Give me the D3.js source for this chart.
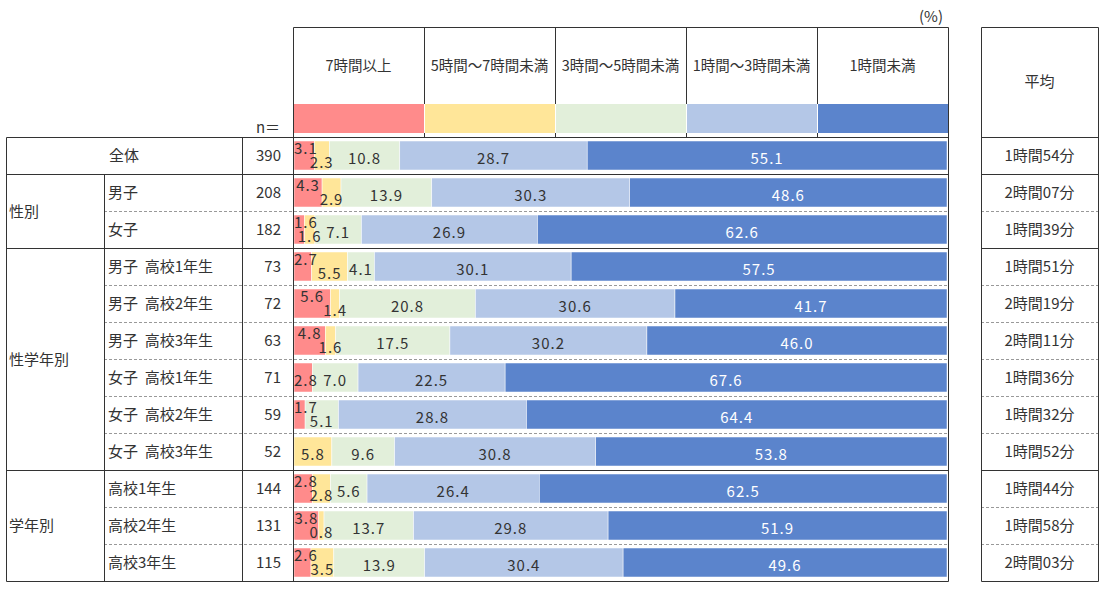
<!DOCTYPE html>
<html>
<head>
<meta charset="utf-8">
<script src="https://cdn.jsdelivr.net/npm/d3@7"></script>
<style>
  body { margin: 0; background: #fff; }
  text { font-family: "Noto Sans CJK JP", "Noto Sans", sans-serif; fill: #333; white-space: pre; }
</style>
</head>
<body>
<script>
var width = 1105;
var height = 591;

var categories = ["7時間以上", "5時間～7時間未満", "3時間～5時間未満", "1時間～3時間未満", "1時間未満"];
var colors = ["#ff8b8b", "#ffe699", "#e2efda", "#b4c7e7", "#5b84cc"];

var rowGroups = ["全体", "性別", "性別", "性学年別", "性学年別", "性学年別", "性学年別", "性学年別", "性学年別", "学年別", "学年別", "学年別"];
var rowLabels = ["全体", "男子", "女子", "男子  高校1年生", "男子  高校2年生", "男子  高校3年生",
  "女子  高校1年生", "女子  高校2年生", "女子  高校3年生", "高校1年生", "高校2年生", "高校3年生"];
var nValues = [390, 208, 182, 73, 72, 63, 71, 59, 52, 144, 131, 115];
var avgLabels = ["1時間54分", "2時間07分", "1時間39分", "1時間51分", "2時間19分", "2時間11分",
  "1時間36分", "1時間32分", "1時間52分", "1時間44分", "1時間58分", "2時間03分"];

var over7 = [3.1, 4.3, 1.6, 2.7, 5.6, 4.8, 2.8, 1.7, 0, 2.8, 3.8, 2.6];
var h5to7 = [2.3, 2.9, 1.6, 5.5, 1.4, 1.6, 0, 0, 5.8, 2.8, 0.8, 3.5];
var h3to5 = [10.8, 13.9, 7.1, 4.1, 20.8, 17.5, 7.0, 5.1, 9.6, 5.6, 13.7, 13.9];
var h1to3 = [28.7, 30.3, 26.9, 30.1, 30.6, 30.2, 22.5, 28.8, 30.8, 26.4, 29.8, 30.4];
var under1 = [55.1, 48.6, 62.6, 57.5, 41.7, 46.0, 67.6, 64.4, 53.8, 62.5, 51.9, 49.6];

var series = [over7, h5to7, h3to5, h1to3, under1];

var table = rowLabels.map(function(label, i) {
  var row = {idx: i};
  categories.forEach(function(c, k) { row[c] = series[k][i]; });
  return row;
});

var svg = d3.select("body")
  .append("svg")
  .attr("width", width)
  .attr("height", height);

var tableTop = 137, tableBottom = 581;
var xLeft = 6, xCol2 = 104, xN = 242, xBar = 293, xBarEnd = 948;
var avgLeft = 981, avgRight = 1098, headTop = 27;

var yScale = d3.scaleBand()
  .domain(d3.range(rowLabels.length))
  .range([tableTop, tableBottom]);

var xScale = d3.scaleLinear()
  .domain([0, 1])
  .range([xBar + 1, xBarEnd - 1]);

var colScale = d3.scaleBand()
  .domain(categories)
  .range([xBar, xBarEnd]);

var color = d3.scaleOrdinal().domain(categories).range(colors);

// header legend
svg.append("text")
  .attr("x", 931).attr("y", 22)
  .attr("text-anchor", "middle")
  .attr("font-size", 15)
  .text("(%)");

svg.selectAll(".swatch")
  .data(categories)
  .enter()
  .append("rect")
  .attr("class", "swatch")
  .attr("x", function(d) { return colScale(d) + 1; })
  .attr("y", 104)
  .attr("width", colScale.bandwidth() - 1)
  .attr("height", 29)
  .attr("fill", function(d) { return color(d); });

svg.selectAll(".colDiv")
  .data(categories.slice(1))
  .enter()
  .append("line")
  .attr("x1", function(d) { return Math.round(colScale(d)) + 0.5; })
  .attr("x2", function(d) { return Math.round(colScale(d)) + 0.5; })
  .attr("y1", headTop).attr("y2", 104)
  .attr("stroke", "#333");

svg.selectAll(".colDiv2")
  .data(categories.slice(1))
  .enter()
  .append("line")
  .attr("x1", function(d) { return Math.round(colScale(d)) + 0.5; })
  .attr("x2", function(d) { return Math.round(colScale(d)) + 0.5; })
  .attr("y1", 133).attr("y2", tableTop)
  .attr("stroke", "#333");

svg.selectAll(".colLabel")
  .data(categories)
  .enter()
  .append("text")
  .attr("x", function(d) { return colScale(d) + colScale.bandwidth() / 2; })
  .attr("y", 70.5)
  .attr("text-anchor", "middle")
  .attr("font-size", 14.5)
  .text(function(d) { return d; });

svg.append("text")
  .attr("x", 268).attr("y", 133)
  .attr("text-anchor", "middle")
  .attr("font-size", 15)
  .text("n＝");

svg.append("text")
  .attr("x", (avgLeft + avgRight) / 2).attr("y", 87)
  .attr("text-anchor", "middle")
  .attr("font-size", 15)
  .text("平均");

// bars
var stack = d3.stack().keys(categories).offset(d3.stackOffsetExpand);
var stacked = stack(table);

var layers = svg.selectAll(".layer")
  .data(stacked)
  .enter()
  .append("g")
  .attr("fill", function(d) { return color(d.key); });

layers.selectAll("rect")
  .data(function(d) { return d; })
  .enter()
  .append("rect")
  .attr("x", function(d) { return xScale(d[0]); })
  .attr("y", function(d) { return yScale(d.data.idx) + 4; })
  .attr("width", function(d) { return xScale(d[1]) - xScale(d[0]); })
  .attr("height", yScale.bandwidth() - 8)
  .attr("stroke", "#fff")
  .attr("stroke-width", 0.5);

// stagger labels of neighbouring narrow segments
var shifts = table.map(function(row) {
  var vals = categories.map(function(c) { return row[c]; });
  var nz = d3.range(vals.length).filter(function(k) { return vals[k] > 0; });
  var s = vals.map(function() { return 0; });
  var j = 0;
  while (j < nz.length) {
    if (j + 1 < nz.length && vals[nz[j]] < 6 && vals[nz[j + 1]] < 6) {
      s[nz[j]] = -1;
      s[nz[j + 1]] = 1;
      j += 2;
    } else {
      j++;
    }
  }
  return s;
});

stacked.forEach(function(layer, k) {
  svg.append("g").selectAll("text")
    .data(layer.filter(function(d) { return d.data[layer.key] > 0; }))
    .enter()
    .append("text")
    .attr("x", function(d) { return (xScale(d[0]) + xScale(d[1])) / 2; })
    .attr("y", function(d) {
      var c = yScale(d.data.idx) + yScale.bandwidth() / 2;
      var s = shifts[d.data.idx][k];
      return s < 0 ? c - 1.5 : (s > 0 ? c + 12.5 : c + 8.5);
    })
    .attr("text-anchor", "middle")
    .attr("font-size", 15)
    .attr("letter-spacing", 1)
    .style("fill", k === 4 ? "#fff" : "#333")
    .text(function(d) { return d3.format(".1f")(d.data[layer.key]); })
    .each(function() {
      var t = d3.select(this);
      var w = this.getComputedTextLength();
      var x = +t.attr("x");
      if (x - w / 2 < xBar + 1) t.attr("x", xBar + 1 + w / 2);
    });
});

// table text
svg.selectAll(".rowLabel")
  .data(rowLabels)
  .enter()
  .append("text")
  .attr("x", function(d, i) { return i === 0 ? (xLeft + xN) / 2 : 108; })
  .attr("y", function(d, i) { return yScale(i) + yScale.bandwidth() / 2 + 5.5; })
  .attr("text-anchor", function(d, i) { return i === 0 ? "middle" : "start"; })
  .attr("font-size", 15)
  .text(function(d) { return d; });

svg.selectAll(".nLabel")
  .data(nValues)
  .enter()
  .append("text")
  .attr("x", 281)
  .attr("y", function(d, i) { return yScale(i) + yScale.bandwidth() / 2 + 5.5; })
  .attr("text-anchor", "end")
  .attr("font-size", 15)
  .text(function(d) { return d; });

svg.selectAll(".avgLabel")
  .data(avgLabels)
  .enter()
  .append("text")
  .attr("x", (avgLeft + avgRight) / 2)
  .attr("y", function(d, i) { return yScale(i) + yScale.bandwidth() / 2 + 5.5; })
  .attr("text-anchor", "middle")
  .attr("font-size", 15)
  .text(function(d) { return d; });

var groupNames = ["性別", "性学年別", "学年別"];
svg.selectAll(".groupLabel")
  .data(groupNames)
  .enter()
  .append("text")
  .attr("x", 9)
  .attr("y", function(g) {
    var idx = d3.range(rowGroups.length).filter(function(i) { return rowGroups[i] === g; });
    var top = yScale(idx[0]);
    var bottom = yScale(idx[idx.length - 1]) + yScale.bandwidth();
    return (top + bottom) / 2 + 5.5;
  })
  .attr("font-size", 15)
  .text(function(d) { return d; });

// row separators
var seps = d3.range(1, rowLabels.length).map(function(i) {
  return {i: i, solid: rowGroups[i] !== rowGroups[i - 1]};
});

svg.selectAll(".sep")
  .data(seps)
  .enter()
  .append("line")
  .attr("x1", function(d) { return d.solid ? xLeft : xCol2; })
  .attr("x2", xBarEnd)
  .attr("y1", function(d) { return Math.round(yScale(d.i)) + 0.5; })
  .attr("y2", function(d) { return Math.round(yScale(d.i)) + 0.5; })
  .attr("stroke", function(d) { return d.solid ? "#333" : "#999"; })
  .attr("stroke-dasharray", function(d) { return d.solid ? null : "3,2"; });

svg.selectAll(".sepAvg")
  .data(seps)
  .enter()
  .append("line")
  .attr("x1", avgLeft)
  .attr("x2", avgRight)
  .attr("y1", function(d) { return Math.round(yScale(d.i)) + 0.5; })
  .attr("y2", function(d) { return Math.round(yScale(d.i)) + 0.5; })
  .attr("stroke", function(d) { return d.solid ? "#333" : "#999"; })
  .attr("stroke-dasharray", function(d) { return d.solid ? null : "3,2"; });

// frame lines
var frame = [
  [xBar, headTop, xBarEnd, headTop],
  [xLeft, tableTop, xBarEnd, tableTop],
  [xLeft, tableBottom, xBarEnd, tableBottom],
  [xLeft, tableTop, xLeft, tableBottom],
  [xCol2, yScale(1), xCol2, tableBottom],
  [xN, tableTop, xN, tableBottom],
  [xBar, headTop, xBar, tableBottom],
  [xBarEnd, headTop, xBarEnd, tableBottom],
  [avgLeft, headTop, avgRight, headTop],
  [avgLeft, tableTop, avgRight, tableTop],
  [avgLeft, tableBottom, avgRight, tableBottom],
  [avgLeft, headTop, avgLeft, tableBottom],
  [avgRight, headTop, avgRight, tableBottom]
];

svg.selectAll(".frame")
  .data(frame)
  .enter()
  .append("line")
  .attr("x1", function(d) { return Math.round(d[0]) + 0.5; })
  .attr("y1", function(d) { return Math.round(d[1]) + 0.5; })
  .attr("x2", function(d) { return Math.round(d[2]) + 0.5; })
  .attr("y2", function(d) { return Math.round(d[3]) + 0.5; })
  .attr("stroke", "#333");
</script>
</body>
</html>
